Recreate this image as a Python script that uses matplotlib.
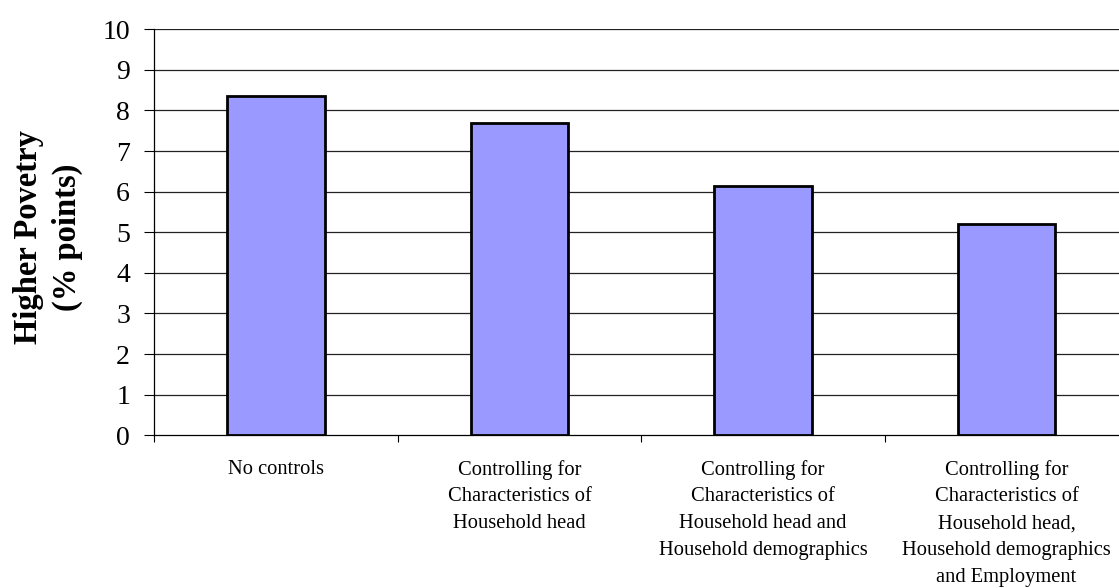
import matplotlib
matplotlib.use("Agg")
import matplotlib.pyplot as plt
import numpy as np

plt.rcParams["font.family"] = ["Liberation Serif", "DejaVu Serif"]

# Écart de pauvreté selon les variables de contrôle
categories = [
    "No controls",
    "Controlling for\nCharacteristics of\nHousehold head",
    "Controlling for\nCharacteristics of\nHousehold head and\nHousehold demographics",
    "Controlling for\nCharacteristics of\nHousehold head,\nHousehold demographics\nand Employment",
]
valeurs = [8.35, 7.70, 6.13, 5.20]
yticks = list(range(0, 11))

fig = plt.figure(figsize=(11.19, 5.88), dpi=100)
# l'axe dépasse volontairement à droite de la figure
ax = fig.add_axes([0.1379, 0.2597, 0.8704, 0.6905])

x = np.arange(len(categories))
ax.bar(x, valeurs, width=0.40, color="#9999FF", edgecolor="black",
       linewidth=2.0, zorder=3)

ax.set_xlim(-0.5, len(categories) - 0.5)
ax.set_ylim(0, 10)
ax.set_yticks(yticks)
ax.set_yticklabels([str(t) for t in yticks], fontsize=20)
ax.tick_params(axis="y", direction="out", length=7.5, width=0.8, pad=10)

# labels centrés sous chaque barre, graduations entre les catégories
ax.set_xticks(x)
ax.set_xticklabels(categories, fontsize=14.8, linespacing=1.56)
ax.tick_params(axis="x", which="major", length=0, pad=17.5)
ax.set_xticks(np.arange(-0.5, len(categories), 1.0), minor=True)
ax.tick_params(axis="x", which="minor", direction="out", length=5, width=0.8)

for t in yticks[1:]:
    ax.axhline(t, color="#222222", linewidth=0.9, zorder=1)

for s in ("top", "right"):
    ax.spines[s].set_visible(False)
ax.spines["left"].set_linewidth(0.9)
ax.spines["bottom"].set_linewidth(0.9)

fig.text(48 / 1119, 1 - 237 / 588, "Higher Povetry\n(% points)", rotation=90,
         ha="center", va="center", multialignment="center",
         fontsize=23.5, fontweight="bold", linespacing=1.3)

fig.savefig("out.png", dpi=100)
